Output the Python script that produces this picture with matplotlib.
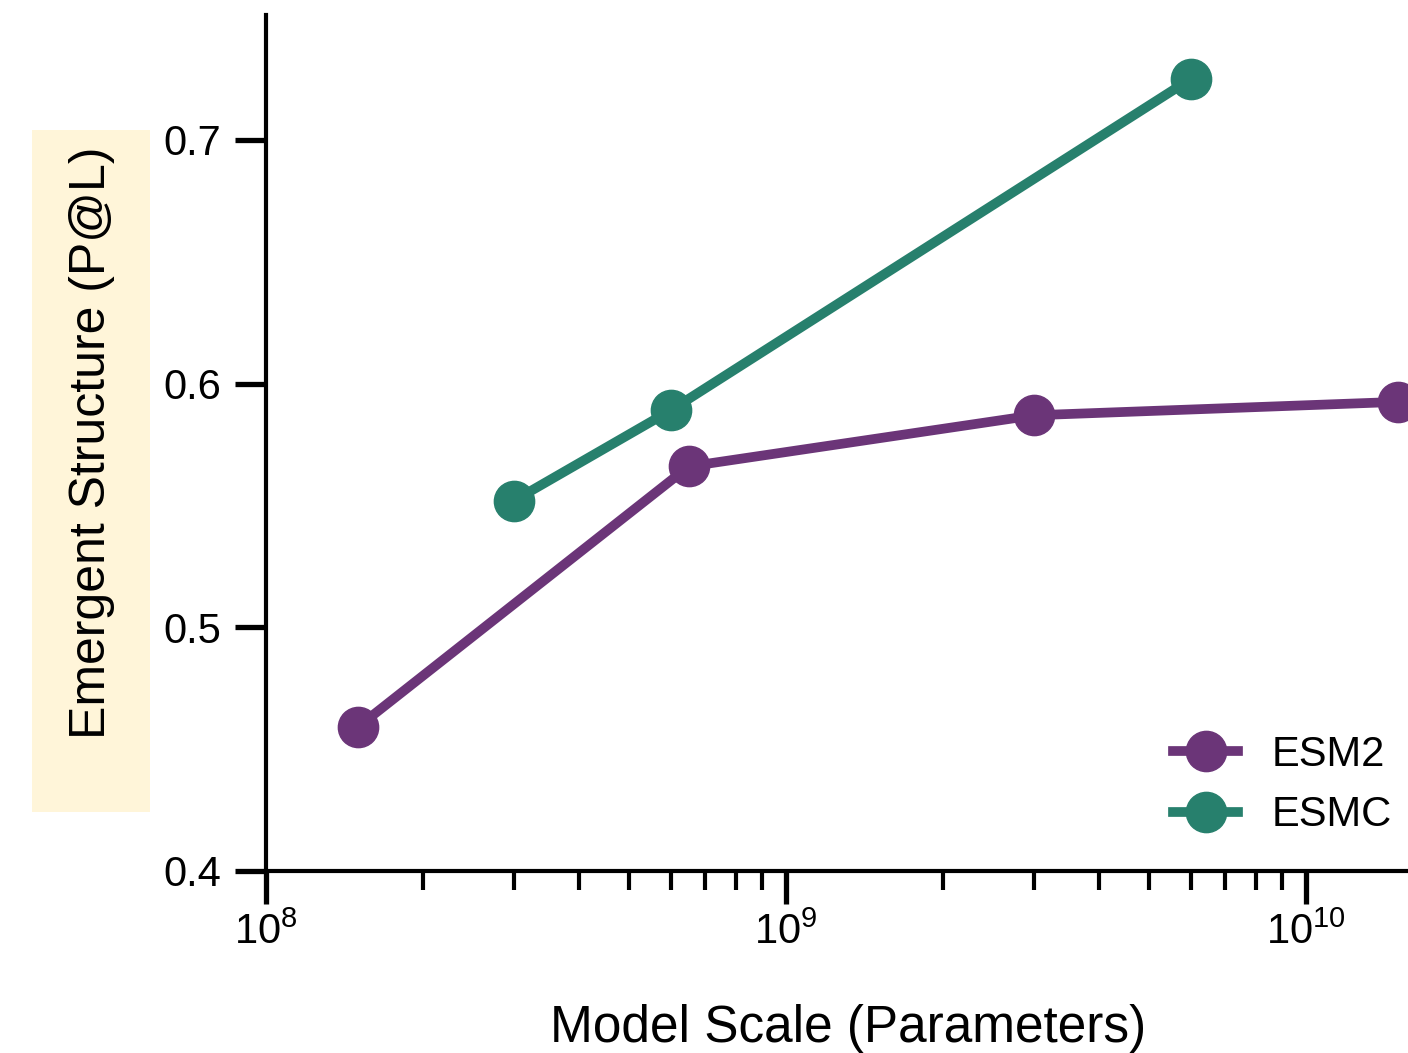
import matplotlib.pyplot as plt
from matplotlib.patches import Rectangle
import numpy as np

plt.rcParams['font.family'] = ['Liberation Sans', 'DejaVu Sans']

# Data (parameters, P@L)
esm2_params = [1.5e8, 6.5e8, 3e9, 1.5e10]
esm2_pal = [0.459, 0.566, 0.587, 0.5925]
esmc_params = [3e8, 6e8, 6e9]
esmc_pal = [0.552, 0.589, 0.725]

esm2_color = '#6B3578'
esmc_color = '#27806D'

fig = plt.figure(figsize=(14.08, 10.53), dpi=100)
ax = fig.add_axes([266 / 1408, 1 - 871 / 1053, 1142 / 1408, 856 / 1053])

# pale highlight behind the y label
ax.add_patch(Rectangle((32 / 1408, 1 - 812 / 1053), 118 / 1408, 682 / 1053,
                       transform=fig.transFigure, facecolor='#FFF5D9',
                       edgecolor='none', zorder=-5, clip_on=False))

ax.plot(esm2_params, esm2_pal, '-o', color=esm2_color, lw=7, ms=29,
        label='ESM2', clip_on=False, zorder=3)
ax.plot(esmc_params, esmc_pal, '-o', color=esmc_color, lw=7, ms=29,
        label='ESMC', clip_on=False, zorder=3)

ax.set_xscale('log')
ax.set_xlim(1e8, 10 ** (8 + 1142 / 520))
ax.set_ylim(0.4, 0.4 + 856 / 2437)
ax.set_yticks([0.4, 0.5, 0.6, 0.7])
ax.set_yticklabels(['0.4', '0.5', '0.6', '0.7'])

for s in ['top', 'right']:
    ax.spines[s].set_visible(False)
for s in ['left', 'bottom']:
    ax.spines[s].set_linewidth(3)

ax.tick_params(axis='y', which='major', length=22, width=3.8, pad=10, labelsize=30)
ax.tick_params(axis='x', which='major', length=24, width=3.8, pad=6, labelsize=30)
ax.tick_params(axis='x', which='minor', length=14, width=3)

ax.set_xlabel('Model Scale (Parameters)', fontsize=37)
ax.set_ylabel('Emergent Structure (P@L)', fontsize=36)
ax.xaxis.set_label_coords(0.51, -0.155)
ax.yaxis.set_label_coords(-0.132, 0.5)

ax.legend(loc='lower right', bbox_to_anchor=(1.015, 0.171),
          bbox_transform=fig.transFigure, frameon=False, fontsize=30,
          handlelength=1.56, handletextpad=0.8, labelspacing=0.5)

fig.savefig('out.png', dpi=100)
